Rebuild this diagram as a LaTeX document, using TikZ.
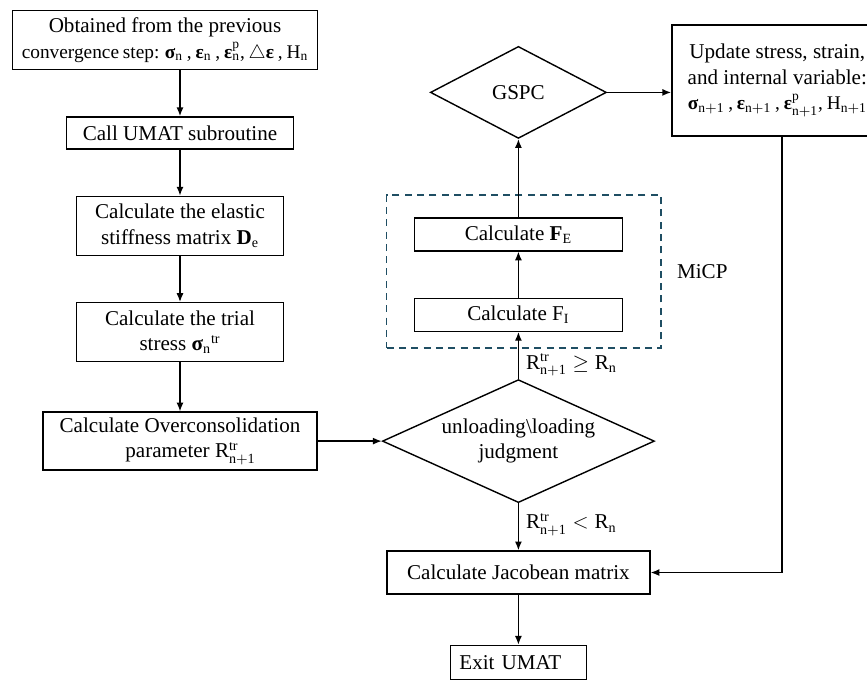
\documentclass[tikz,border=0pt]{standalone}
\usepackage{fontspec}
\setmainfont{Liberation Serif}
\usepackage{amsmath}
\usepackage{xcolor}
\usepackage{tikz}
\definecolor{micpblue}{RGB}{31, 78, 99}
\usetikzlibrary{arrows.meta,positioning,shapes.geometric,calc,fit}
\newcommand{\bsig}{\text{\bfseries σ}}
\newcommand{\beps}{\text{\bfseries ε}}
\newcommand{\eqline}{\fontsize{11}{14}\selectfont\spaceskip=0.2em}

\begin{document}
\begin{tikzpicture}[node distance=0.92cm, font=\fontsize{12}{14.5}\selectfont]
    % Define styles
    \tikzstyle{process} = [rectangle, draw, line width=0.8pt, align=center, inner sep=2pt]
    \tikzstyle{decision} = [diamond, draw, line width=0.8pt, align=center, inner sep=0pt, aspect=2.2]
    \tikzstyle{arrowline} = [-{Latex[length=5pt,width=4pt]}, line width=0.8pt]
    \tikzstyle{micpframe} = [draw=micpblue, line width=0.9pt, dash pattern=on 4pt off 3pt, inner sep=0pt]

    \useasboundingbox (0,0) rectangle (17.34,-13.6);

    % Nodes
    \node[process, minimum width=6.1cm, minimum height=1.18cm] (prev) at (3.3,-0.8)
        {Obtained from the previous\\{\eqline convergence step: $\bsig_{\mathrm{n}}$ , $\beps_{\mathrm{n}}$ , $\beps^{\mathrm{p}}_{\mathrm{n}}$, $\triangle\beps$ , $\mathrm{H}_{\mathrm{n}}$}};
    \node[process, below=of prev, xshift=0.3cm, minimum width=4.54cm, minimum height=0.64cm] (umat) {Call UMAT subroutine};
    \node[process, below=of umat, minimum width=4.14cm, minimum height=1.18cm] (elastic) {Calculate the elastic\\stiffness matrix \textbf{D}$_{\mathrm{e}}$};
    \node[process, below=of elastic, minimum width=4.14cm, minimum height=1.18cm] (trial) {Calculate the trial\\stress $\bsig_{\mathrm{n}}{}^{\mathrm{tr}}$};
    \node[process, below=0.98cm of trial, minimum width=5.48cm, minimum height=1.16cm] (overc) {Calculate Overconsolidation\\\quad parameter $\mathrm{R}^{\mathrm{tr}}_{\mathrm{n{+}1}}$};
    \node[decision, right=1.28cm of overc, minimum width=5.44cm, minimum height=2.46cm] (judge) {unloading\textbackslash loading\\judgment};
    \node[process, above=0.94cm of judge, minimum width=4.16cm, minimum height=0.66cm] (fi) {Calculate F$_{\mathrm{I}}$};
    \node[process, above=of fi, minimum width=4.16cm, minimum height=0.66cm] (fe) {Calculate \textbf{F}$_{\mathrm{E}}$};
    \node[decision, above=1.56cm of fe, minimum width=3.52cm, minimum height=1.84cm] (gspc) {GSPC};
    \node[process, right=1.28cm of gspc, yshift=0.24cm, minimum width=4.22cm, minimum height=2.22cm] (update)
        {Update stress, strain,\\and internal variable:\\{\eqline $\bsig_{\mathrm{n{+}1}}$ , $\beps_{\mathrm{n{+}1}}$ , $\beps^{\mathrm{p}}_{\mathrm{n{+}1}}$, $\mathrm{H}_{\mathrm{n{+}1}}$}};
    \node[process, below=0.94cm of judge, minimum width=5.26cm, minimum height=0.86cm] (jacob) {Calculate Jacobean matrix};
    \node[process, below=1.0cm of jacob, text width=2.36cm, align=left, inner xsep=0.18cm, minimum height=0.68cm] (exit) {Exit UMAT};

    % MiCP frame
    \coordinate (micpnw) at ($(fe.north west)+(-0.54,0.44)$);
    \coordinate (micpse) at ($(fi.south east)+(0.76,-0.32)$);
    \node[micpframe, fit=(micpnw)(micpse)] (micp) {};

    % Connections
    \draw[arrowline] (umat.north |- prev.south) -- (umat);
    \draw[arrowline] (umat) -- (elastic);
    \draw[arrowline] (elastic) -- (trial);
    \draw[arrowline] (trial) -- (overc);
    \draw[arrowline] (overc) -- (judge);
    \draw[arrowline] (judge) -- node[right, pos=0.3, inner sep=4pt] {$\mathrm{R}^{\mathrm{tr}}_{\mathrm{n{+}1}}\geq \mathrm{R}_{\mathrm{n}}$} (fi);
    \draw[arrowline] (fi) -- (fe);
    \draw[arrowline] (fe) -- (gspc);
    \draw[arrowline] (gspc.east) -- (gspc.east -| update.west);
    \draw[arrowline] (judge) -- node[right, pos=0.45, inner sep=4pt] {$\mathrm{R}^{\mathrm{tr}}_{\mathrm{n{+}1}}< \mathrm{R}_{\mathrm{n}}$} (jacob);
    \draw[arrowline] ([xshift=0.09cm]update.south) |- (jacob.east);
    \draw[arrowline] (jacob.south -| exit.north) -- (exit);

    % Annotations
    \node[right=0.18cm of micp.east] (micplabel) {MiCP};
\end{tikzpicture}
\end{document}
